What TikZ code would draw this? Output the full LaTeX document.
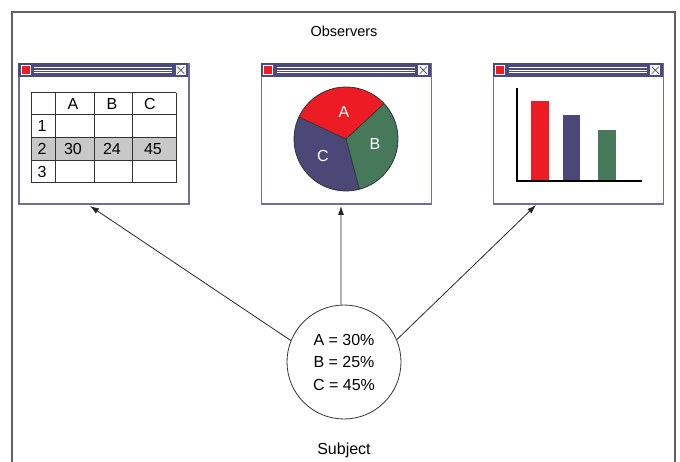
\documentclass[tikz,border=0pt]{standalone}
\usepackage{fontspec}
\setmainfont{Liberation Sans}
\usetikzlibrary{calc,arrows.meta}

\definecolor{winframe}{HTML}{716C9B}
\definecolor{barnavy}{HTML}{4A4A7E}
\definecolor{slicered}{HTML}{ED1C24}
\definecolor{slicegreen}{HTML}{46785A}
\definecolor{slicenavy}{HTML}{4B4877}
\definecolor{rowgray}{HTML}{C8C8C8}
\definecolor{framegray}{HTML}{5F5F5F}

\begin{document}
\begin{tikzpicture}[x=1pt,y=-1pt,
    obswin/.style={draw=winframe,line width=1.5pt,fill=white,minimum width=170pt,minimum height=140pt,inner sep=0pt},
    cell/.style={font=\fontsize{16}{18}\selectfont,inner sep=0pt},
    caption/.style={font=\fontsize{14.5}{16}\selectfont,inner sep=0pt},
    obsarrow/.style={draw=black!85,line width=0.8pt,-{Latex[length=9pt,width=6pt]}}]
    \useasboundingbox (0,0) rectangle (680,462);

    % outer frame, open at the bottom
    \draw[framegray,line width=2pt] (12,462) -- (12,12) -- (675,12) -- (675,462);

    % the three observer windows with their title bars
    \foreach \n/\cx in {tab/104,pie/346.5,bar/578.5} {
        \node[obswin] (win\n) at (\cx,134) {};
        \path (win\n.north west) coordinate (nw);
        \fill[barnavy] (nw) rectangle ($(nw)+(170,14)$);
        \draw[white,line width=0.9pt] ($(nw)+(16,4.5)$) -- ($(nw)+(154,4.5)$)
            ($(nw)+(16,7)$) -- ($(nw)+(154,7)$)
            ($(nw)+(16,9.5)$) -- ($(nw)+(154,9.5)$);
        \filldraw[fill=slicered,draw=white,line width=0.6pt] ($(nw)+(3,2.5)$) rectangle ($(nw)+(12,11.5)$);
        \filldraw[fill=white!92!gray,draw=barnavy,line width=0.6pt] ($(nw)+(157,1.5)$) rectangle ($(nw)+(168,12.5)$);
        \draw[black!70,line width=0.7pt] ($(nw)+(159,3.5)$) -- ($(nw)+(166,10.5)$)
            ($(nw)+(166,3.5)$) -- ($(nw)+(159,10.5)$);
    }

    % table
    \fill[rowgray] (31,138) rectangle (176,161);
    \foreach \cx in {31,55,94,132,176}
        \draw[line width=1pt,black!80] (\cx,93) -- (\cx,183);
    \foreach \ry in {93,115,138,161,183}
        \draw[line width=1pt,black!80] (31,\ry) -- (176,\ry);
    \foreach \t/\px in {A/73,B/112,C/150}
        \node[cell] (head\t) at (\px,104) {\t};
    \foreach \t/\py in {1/126,2/149,3/172}
        \node[cell] (row\t) at (42,\py) {\t};
    \foreach \t/\px in {30/73,24/112,45/153}
        \node[cell] (val\t) at (\px,149) {\t};

    % pie
    \begin{scope}[shift={(346,139)},yscale=-1]
        \fill[slicered] (0,0) -- (43:52) arc[start angle=43,end angle=155,radius=52] -- cycle;
        \fill[slicenavy] (0,0) -- (155:52) arc[start angle=155,end angle=285,radius=52] -- cycle;
        \fill[slicegreen] (0,0) -- (285:52) arc[start angle=285,end angle=403,radius=52] -- cycle;
        \draw[black!80,line width=0.8pt] (0,0) circle[radius=52];
        \draw[black!80,line width=0.8pt] (43:52) -- (0,0) -- (155:52) (0,0) -- (285:52);
    \end{scope}
    \node[cell,text=white] (sliceA) at (344,112) {A};
    \node[cell,text=white] (sliceB) at (375,144) {B};
    \node[cell,text=white] (sliceC) at (323,156) {C};

    % bars
    \fill[slicered] (531,101) rectangle (549,181);
    \fill[slicenavy] (563,115) rectangle (580,181);
    \fill[slicegreen] (598,130) rectangle (616,181);
    \draw[line width=1.2pt] (517,88) -- (517,181) -- (642,181);

    % subject and its observers
    \node[circle,draw=black!80,line width=0.8pt,minimum size=114pt,inner sep=0pt,align=center,
        font=\fontsize{16}{22.5}\selectfont] (subject) at (344,362) {A = 30\%\\B = 25\%\\C = 45\%};
    \node[caption] (observers) at (344,31) {Observers};
    \node[caption,font=\fontsize{16}{18}\selectfont] (subjectname) at (344,450) {Subject};

    \coordinate (tabtip) at (90,206);
    \coordinate (pietip) at (341,206);
    \coordinate (bartip) at (536,205);
    \draw[obsarrow] (subject.158) -- (tabtip);
    \draw[obsarrow] (subject.93) -- (pietip);
    \draw[obsarrow] (subject.23) -- (bartip);
\end{tikzpicture}
\end{document}
